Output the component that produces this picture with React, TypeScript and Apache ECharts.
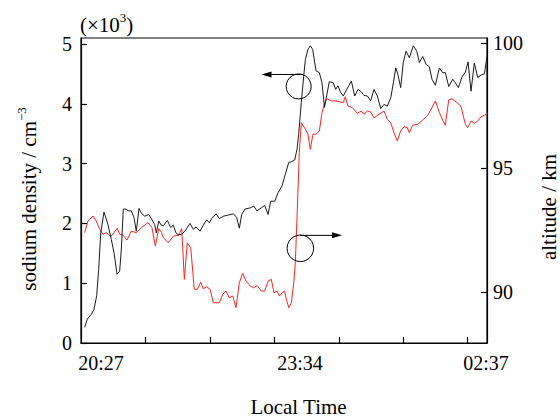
import React, { useEffect, useRef } from "react";
import * as echarts from "echarts";

// minutes after 20:27
const densityTimes = [3.5,6.0,9.9,12.4,15.0,16.9,18.9,22.0,25.8,29.0,31.6,34.5,37.0,38.6,40.5,43.4,45.0,48.1,50.7,52.9,55.5,57.7,61.0,64.8,67.3,70.5,72.1,74.4,76.8,78.8,82.6,85.8,88.3,90.9,93.1,96.4,99.5,104.3,107.5,110.1,113.9,117.0,120.3,122.8,125.1,129.2,132.4,136.2,141.0,145.8,149.0,151.5,153.8,156.9,162.0,165.3,168.4,172.5,175.8,179.0,181.5,185.4,188.5,192.4,195.5,198.8,201.3,204.5,206.7,208.3,210.8,213.1,214.7,217.2,219.4,221.7,224.9,228.1,230.6,233.0,237.6,241.4,243.7,245.9,248.5,251.0,254.3,258.7,261.9,265.1,268.2,270.8,274.0,277.2,280.4,283.6,286.8,290.0,293.1,296.4,298.9,301.2,303.4,305.9,308.4,311.0,314.2,318.0,321.3,323.8,327.0,330.2,333.3,335.9,339.1,342.9,346.1,348.6,351.9,355.7,358.2,361.1,364.6,367.8,370.4,373.2,376.4,379.6,382.8,386.0,388.5];
// sodium density (x10^3 cm^-3)
const densityValues = [0.26,0.40,0.48,0.56,0.79,1.23,1.84,2.19,1.98,1.73,1.51,1.15,1.20,1.57,2.24,2.24,2.21,2.21,2.10,1.87,2.25,2.17,2.12,2.15,2.08,1.98,1.84,2.04,1.97,1.96,2.05,1.93,1.97,1.84,1.81,1.82,1.87,2.00,1.90,1.94,1.87,1.97,2.06,2.01,2.08,2.16,2.08,2.12,2.14,2.16,2.10,1.92,2.15,2.24,2.26,2.29,2.21,2.26,2.30,2.15,2.37,2.37,2.51,2.63,2.82,3.02,3.03,3.06,3.24,3.49,4.02,4.46,4.74,4.91,4.97,4.91,4.55,4.52,4.35,3.94,4.37,4.35,4.24,4.30,4.19,4.13,4.24,4.38,4.13,4.24,4.20,4.14,4.13,4.05,4.24,4.13,3.92,3.99,3.96,4.10,4.35,4.60,4.48,4.27,4.69,4.88,4.77,4.97,4.88,4.69,4.79,4.66,4.62,4.41,4.31,4.60,4.52,4.52,4.29,4.41,4.35,4.27,4.45,4.53,4.70,4.21,4.68,4.44,4.48,4.50,4.79];

const altitudeTimes = [3.5,6.7,11.5,14.6,17.9,21.1,24.2,28.4,31.6,34.7,37.0,40.2,44.0,48.1,52.9,57.7,64.1,67.9,71.1,74.4,77.0,78.8,83.5,88.3,93.1,96.4,98.9,101.7,105.0,108.4,111.3,114.6,117.0,120.3,123.5,126.6,132.4,135.6,138.8,141.9,145.2,148.3,151.5,154.7,157.9,162.0,165.3,168.4,172.5,175.8,179.0,182.1,184.7,187.6,189.8,192.4,194.9,196.5,198.8,201.3,203.6,205.1,207.0,208.9,210.8,214.7,217.2,219.4,222.0,224.9,228.1,230.6,233.2,235.7,239.5,243.7,247.9,251.0,252.9,255.5,259.6,264.4,268.2,270.8,274.0,277.2,280.4,285.2,290.0,293.1,296.4,299.5,302.7,305.9,309.1,312.3,314.2,317.4,322.2,327.0,331.8,335.9,339.1,342.9,346.1,348.6,351.9,355.0,358.9,363.6,365.8,367.8,370.0,373.2,376.4,379.6,382.8,386.0,388.5];
// altitude (km)
const altitudeValues = [92.39,92.86,93.06,92.86,92.52,92.32,92.39,92.23,92.39,92.56,92.32,92.29,92.09,92.45,92.39,92.59,92.79,92.59,91.85,92.55,92.40,92.19,91.98,92.25,92.28,92.55,90.51,91.98,91.78,90.11,90.11,90.40,90.13,90.21,90.11,89.57,89.57,89.91,90.04,89.77,89.84,89.37,90.37,90.75,90.44,90.24,90.17,90.27,90.04,90.04,90.44,90.51,89.97,90.04,89.84,89.97,90.04,89.71,89.37,89.57,90.37,91.18,93.33,95.61,96.81,96.55,96.35,95.74,96.35,96.35,96.48,97.22,97.62,97.78,97.69,97.69,97.65,97.62,97.86,97.48,97.42,97.19,97.28,97.15,97.28,97.24,97.01,97.15,97.28,96.95,96.81,96.41,96.08,96.48,96.65,96.61,96.41,96.71,96.75,96.92,97.11,97.42,97.69,97.22,96.92,96.71,97.73,97.78,97.65,97.48,97.08,96.75,96.61,96.88,96.79,96.88,97.05,97.11,97.19];

const xTickValues = [61.67, 123.33, 185.0, 246.67, 308.33, 370.0];
const xLabelValues = [19.1, 209.6, 387.6];
const xLabelTexts = ["20:27", "23:34", "02:37"];
const leftTickValues = [0, 1, 2, 3, 4, 5];
const rightTickValues = [90, 95, 100];

// annotation anchors (data coordinates)
const densityMarker = { x: 208.3, y: 4.29, arrowFrom: 212.5, arrowTo: 172.7, arrowY: 4.49 };
const altitudeMarker = { x: 209.9, y: 91.76, arrowFrom: 209.6, arrowTo: 249.8, arrowY: 92.28 };

const FONT = "Liberation Serif";
const F20 = "20px 'Liberation Serif'";
const F21 = "21px 'Liberation Serif'";
const F13 = "13px 'Liberation Serif'";

export default function App() {
  const ref = useRef<HTMLDivElement>(null);
  useEffect(() => {
    if (!ref.current) return;
    const chart = echarts.init(ref.current, null, { renderer: "svg" });
    const densityData = densityTimes.map((t, i) => [t, densityValues[i]]);
    const altitudeData = altitudeTimes.map((t, i) => [t, altitudeValues[i]]);

    const titleRich = {
      n: { font: F21, fontSize: 21, fontFamily: FONT, fill: "#000", lineHeight: 24, verticalAlign: "bottom" },
      s: { font: F13, fontSize: 13, fontFamily: FONT, fill: "#000", lineHeight: 13, verticalAlign: "top" },
    };

    const textGraphics = [
      {
        type: "text",
        id: "t1",
        x: 80,
        y: 23,
        style: { text: "{n|(×10}{s|3}{n|)}", font: F21, rich: titleRich, align: "left", verticalAlign: "middle" },
      },
      {
        type: "text",
        id: "t2",
        x: 27,
        y: 199,
        rotation: Math.PI / 2,
        style: { text: "{n|sodium density / cm}{s|−3}", font: F21, rich: titleRich, align: "center", verticalAlign: "middle" },
      },
      {
        type: "text",
        id: "t3",
        x: 549,
        y: 207,
        rotation: Math.PI / 2,
        style: { text: "altitude / km", font: F21, fill: "#000", align: "center", verticalAlign: "middle" },
      },
      {
        type: "text",
        id: "t4",
        x: 298.5,
        y: 407,
        style: { text: "Local Time", font: F21, fill: "#000", align: "center", verticalAlign: "middle" },
      },
    ];

    chart.setOption({
      animation: false,
      backgroundColor: "#ffffff",
      textStyle: { fontFamily: FONT },
      grid: { left: 81, right: 73, top: 38, bottom: 77, show: true, borderColor: "#000", borderWidth: 1.2, backgroundColor: "transparent" },
      graphic: textGraphics,
      xAxis: {
        type: "value",
        min: 0,
        max: 388.5,
        axisLine: { show: true, lineStyle: { color: "#000", width: 1.2 } },
        axisTick: { show: true, inside: true, length: 6, customValues: xTickValues, lineStyle: { color: "#000", width: 1.2 } },
        axisLabel: {
          customValues: xLabelValues,
          formatter: (v: number) => {
            const idx = xLabelValues.findIndex((x) => Math.abs(x - v) < 0.01);
            return idx >= 0 ? "{t|" + xLabelTexts[idx] + "}" : "";
          },
          rich: { t: { font: F20, fontFamily: FONT, fontSize: 20, color: "#000" } },
          color: "#000",
          fontFamily: FONT,
          fontSize: 20,
          margin: 10,
        },
        splitLine: { show: false },
      },
      yAxis: [
        {
          type: "value",
          min: 0,
          max: 5.1,
          position: "left",
          axisLine: { show: true, lineStyle: { color: "#000", width: 1.2 } },
          axisTick: { show: true, inside: true, length: 6, customValues: leftTickValues, lineStyle: { color: "#000", width: 1.2 } },
          axisLabel: {
            customValues: leftTickValues,
            formatter: (v: number) => "{t|" + v + "}",
            rich: { t: { font: F20, fontFamily: FONT, fontSize: 20, color: "#000" } },
            color: "#000",
            fontFamily: FONT,
            fontSize: 20,
            margin: 9,
          },
          splitLine: { show: false },
        },
        {
          type: "value",
          min: 87.95,
          max: 100.22,
          position: "right",
          axisLine: { show: true, lineStyle: { color: "#000", width: 1.2 } },
          axisTick: { show: true, inside: true, length: 6, customValues: rightTickValues, lineStyle: { color: "#000", width: 1.2 } },
          axisLabel: {
            customValues: rightTickValues,
            formatter: (v: number) => "{t|" + v + "}",
            rich: { t: { font: F20, fontFamily: FONT, fontSize: 20, color: "#000" } },
            color: "#000",
            fontFamily: FONT,
            fontSize: 20,
            margin: 6,
          },
          splitLine: { show: false },
        },
      ],
      series: [
        {
          name: "altitude",
          type: "line",
          yAxisIndex: 1,
          data: altitudeData,
          symbol: "none",
          lineStyle: { color: "#ff2222", width: 1 },
          z: 2,
        },
        {
          name: "sodium density",
          type: "line",
          yAxisIndex: 0,
          data: densityData,
          symbol: "none",
          lineStyle: { color: "#1a1a1a", width: 1 },
          z: 3,
        },
      ],
    });

    const p = (x: number, y: number, axis: number) =>
      chart.convertToPixel({ xAxisIndex: 0, yAxisIndex: axis }, [x, y]) as number[];

    const c1 = p(densityMarker.x, densityMarker.y, 0);
    const a1s = p(densityMarker.arrowFrom, densityMarker.arrowY, 0);
    const a1e = p(densityMarker.arrowTo, densityMarker.arrowY, 0);
    const c2 = p(altitudeMarker.x, altitudeMarker.y, 1);
    const a2s = p(altitudeMarker.arrowFrom, altitudeMarker.arrowY, 1);
    const a2e = p(altitudeMarker.arrowTo, altitudeMarker.arrowY, 1);

    const arrowHead = (id: string, tip: number[], dir: number) => ({
      type: "polygon",
      id,
      shape: { points: [[tip[0], tip[1]], [tip[0] - dir * 10, tip[1] - 3], [tip[0] - dir * 10, tip[1] + 3]] },
      style: { fill: "#000" },
      z: 10,
    });

    chart.setOption({
      graphic: [
        ...textGraphics,
        { type: "circle", id: "c1", shape: { cx: c1[0], cy: c1[1], r: 12.5 }, style: { fill: "none", stroke: "#000", lineWidth: 1 }, z: 10 },
        { type: "line", id: "l1", shape: { x1: a1s[0], y1: a1s[1], x2: a1e[0] + 8, y2: a1e[1] }, style: { stroke: "#000", lineWidth: 1 }, z: 10 },
        arrowHead("h1", a1e, -1),
        { type: "circle", id: "c2", shape: { cx: c2[0], cy: c2[1], r: 13.3 }, style: { fill: "none", stroke: "#000", lineWidth: 1 }, z: 10 },
        { type: "line", id: "l2", shape: { x1: a2s[0], y1: a2s[1], x2: a2e[0] - 8, y2: a2e[1] }, style: { stroke: "#000", lineWidth: 1 }, z: 10 },
        arrowHead("h2", a2e, 1),
      ],
    });

    return () => chart.dispose();
  }, []);
  return <div ref={ref} style={{ position: "fixed", left: 0, top: 0, width: 560, height: 420 }} />;
}
